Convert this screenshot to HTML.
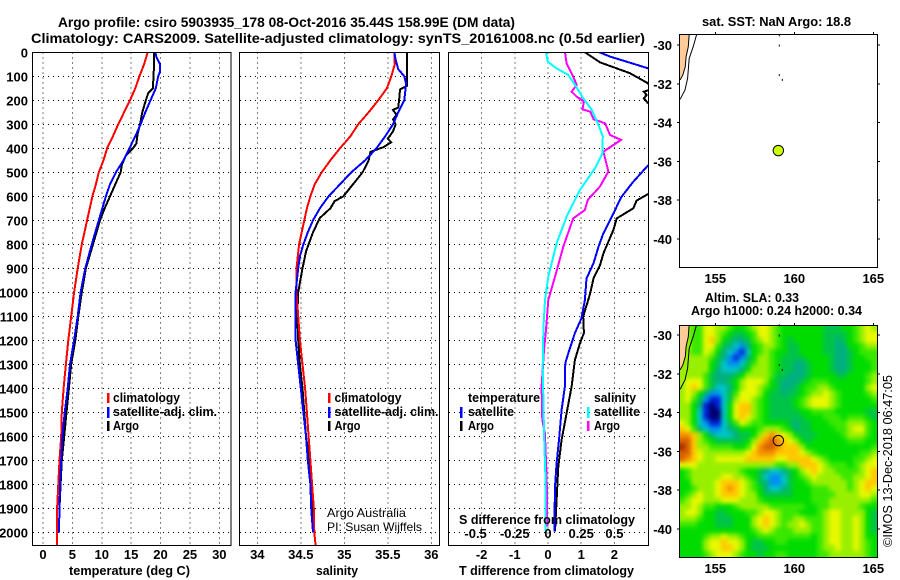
<!DOCTYPE html>
<html>
<head>
<meta charset="utf-8">
<title>Argo profile</title>
<style>
html,body{margin:0;padding:0;background:#fff;}
svg{display:block;}
text{font-family:"Liberation Sans",sans-serif;font-size:13px;font-weight:bold;fill:#000;}
.thin{font-weight:normal;font-size:12px;}
</style>
</head>
<body>
<svg id="fig" xmlns="http://www.w3.org/2000/svg" width="900" height="580" viewBox="0 0 900 580">
<defs>
<clipPath id="clipT"><rect x="33" y="52" width="198" height="493"/></clipPath>
<clipPath id="clipS"><rect x="240" y="52" width="199" height="493"/></clipPath>
<clipPath id="clipD"><rect x="449" y="52" width="199" height="493"/></clipPath>
<clipPath id="clipM1"><rect x="679" y="34" width="198" height="233"/></clipPath>
<clipPath id="clipM2"><rect x="679" y="325" width="198" height="232"/></clipPath>
<filter id="heatBlur" filterUnits="userSpaceOnUse" x="650" y="300" width="250" height="280" color-interpolation-filters="sRGB"><feGaussianBlur stdDeviation="2.2"/></filter>
</defs>
<text x="58" y="27" textLength="457" lengthAdjust="spacingAndGlyphs" style="font-size:14px">Argo profile: csiro 5903935_178 08-Oct-2016 35.44S 158.99E (DM data)</text>
<text x="31" y="43" textLength="614" lengthAdjust="spacingAndGlyphs" style="font-size:14px">Climatology: CARS2009. Satellite-adjusted climatology: synTS_20161008.nc (0.5d earlier)</text>
<g clip-path="url(#clipM2)"><g id="heat" filter="url(#heatBlur)"></g></g>
<g id="plots"></g>
<text x="69" y="575" textLength="121" lengthAdjust="spacingAndGlyphs">temperature (deg C)</text>
<text x="316" y="575" textLength="42" lengthAdjust="spacingAndGlyphs">salinity</text>
<text x="459" y="575" textLength="175" lengthAdjust="spacingAndGlyphs">T difference from climatology</text>
<text x="459" y="524" textLength="176" lengthAdjust="spacingAndGlyphs">S difference from climatology</text>
<g>
<rect x="107" y="393" width="2.5" height="10" fill="#f00"/><rect x="107" y="407" width="2.5" height="11" fill="#00f"/><rect x="107" y="421" width="2.5" height="10" fill="#000"/>
<text x="113" y="402" textLength="67" lengthAdjust="spacingAndGlyphs">climatology</text>
<text x="113" y="416" textLength="104" lengthAdjust="spacingAndGlyphs">satellite-adj. clim.</text>
<text x="113" y="430" textLength="26" lengthAdjust="spacingAndGlyphs">Argo</text>
</g>
<g>
<rect x="328" y="393" width="2.5" height="10" fill="#f00"/><rect x="328" y="407" width="2.5" height="11" fill="#00f"/><rect x="328" y="421" width="2.5" height="10" fill="#000"/>
<text x="334.5" y="402" textLength="67" lengthAdjust="spacingAndGlyphs">climatology</text>
<text x="334.5" y="416" textLength="104" lengthAdjust="spacingAndGlyphs">satellite-adj. clim.</text>
<text x="334.5" y="430" textLength="26" lengthAdjust="spacingAndGlyphs">Argo</text>
</g>
<g>
<text x="468" y="402" textLength="72" lengthAdjust="spacingAndGlyphs">temperature</text>
<rect x="460" y="407" width="2.5" height="11" fill="#00f"/><text x="468" y="416" textLength="46" lengthAdjust="spacingAndGlyphs">satellite</text>
<rect x="460" y="421" width="2.5" height="10" fill="#000"/><text x="468" y="430" textLength="26" lengthAdjust="spacingAndGlyphs">Argo</text>
<text x="594" y="402" textLength="42" lengthAdjust="spacingAndGlyphs">salinity</text>
<rect x="587" y="407" width="2.5" height="11" fill="#0ff"/><text x="594" y="416" textLength="46" lengthAdjust="spacingAndGlyphs">satellite</text>
<rect x="587" y="421" width="2.5" height="10" fill="#f0f"/><text x="594" y="430" textLength="26" lengthAdjust="spacingAndGlyphs">Argo</text>
</g>
<text class="thin" x="327" y="517" textLength="79" lengthAdjust="spacingAndGlyphs">Argo Australia</text>
<text class="thin" x="327" y="531" textLength="95" lengthAdjust="spacingAndGlyphs">PI: Susan Wijffels</text>
<text x="702" y="26" textLength="149" lengthAdjust="spacingAndGlyphs">sat. SST: NaN Argo: 18.8</text>
<text x="705" y="302" textLength="94" lengthAdjust="spacingAndGlyphs">Altim. SLA: 0.33</text>
<text x="691" y="315" textLength="171" lengthAdjust="spacingAndGlyphs">Argo h1000: 0.24 h2000: 0.34</text>
<text transform="translate(892,547) rotate(-90)" textLength="172" lengthAdjust="spacingAndGlyphs" style="font-weight:normal">©IMOS 13-Dec-2018 06:47:05</text>
</svg>
<script>
var depthTicks = [0,100,200,300,400,500,600,700,800,900,1000,1100,1200,1300,1400,1500,1600,1700,1800,1900,2000];
var tempTicks = [0,5,10,15,20,25,30];
var salTicks = ["34","34.5","35","35.5","36"];
var tDiffTicks = [-2,-1,0,1,2];
var sDiffTicks = ["-0.5","-0.25","0","0.25","0.5"];
var lonTicks = [155,160,165];
var latTicks = [-30,-32,-34,-36,-38,-40];

var tempClimDepth = [0,50,100,150,200,250,300,350,400,450,500,550,600,700,800,900,1000,1100,1200,1300,1400,1500,1600,1700,1800,1900,2000,2054];
var tempClim = [17.8,17.2,16.4,15.7,14.8,13.8,12.8,11.9,10.9,10.3,9.5,9.0,8.4,7.5,6.6,5.9,5.3,4.8,4.3,3.9,3.5,3.2,3.1,2.8,2.6,2.4,2.4,2.4];
var tempSatDepth = [0,20,50,80,100,150,200,250,300,350,400,450,500,550,600,700,800,900,1000,1100,1200,1300,1400,1500,1600,1700,1800,1900,2000];
var tempSat = [19.1,19.3,19.9,19.9,19.6,19.2,18.3,17.4,16.6,15.7,14.7,13.7,12.4,11.4,10.7,9.5,8.3,7.2,6.4,5.9,5.3,4.6,4.2,3.7,3.3,3.1,2.9,2.8,2.7];
var tempArgoDepth = [0,50,100,150,170,200,250,300,340,380,400,430,470,500,550,600,650,700,800,900,1000,1100,1200,1300,1400,1500,1600,1700,1800,1900,2000];
var tempArgo = [18.9,18.9,18.8,18.7,17.9,17.5,16.9,16.5,16.1,15.9,15.3,14.1,13.4,13.2,12.3,11.4,10.5,9.7,8.5,7.3,6.6,6.0,5.5,4.8,4.4,4.0,3.6,3.2,3.0,2.8,2.7];

var salClimDepth = [0,50,100,150,200,250,300,350,400,450,500,550,600,650,700,750,800,900,1000,1100,1200,1300,1400,1500,1600,1700,1800,1900,2000,2054];
var salClim = [35.575,35.58,35.54,35.49,35.39,35.28,35.16,35.07,34.95,34.84,34.74,34.66,34.61,34.57,34.54,34.51,34.48,34.45,34.45,34.47,34.49,34.52,34.55,34.57,34.59,34.61,34.63,34.65,34.655,34.67];
var salSatDepth = [0,30,70,100,130,200,250,300,350,400,450,500,550,600,650,700,750,800,850,900,1000,1100,1200,1300,1400,1500,1600,1700,1800,1900,2000];
var salSat = [35.575,35.59,35.62,35.69,35.71,35.69,35.62,35.56,35.47,35.37,35.24,35.08,34.95,34.82,34.72,34.64,34.58,34.53,34.49,34.47,34.44,34.44,34.44,34.47,34.50,34.53,34.56,34.58,34.61,34.62,34.64];
var salArgoDepth = [0,100,140,155,200,230,240,260,280,300,330,360,375,395,415,450,500,550,600,620,650,690,750,830,900,1000,1100,1200,1300,1400,1500,1600,1700,1800,1900,2000];
var salArgo = [35.72,35.72,35.72,35.64,35.63,35.62,35.56,35.6,35.56,35.59,35.56,35.5,35.54,35.45,35.3,35.28,35.21,35.10,34.99,34.89,34.84,34.72,34.64,34.56,34.52,34.47,34.46,34.47,34.49,34.52,34.54,34.56,34.6,34.62,34.63,34.64];

var dtSatDepth = [0,18,39,67,100,150,200,300,400,470,539,601,671,754,810,879,942,1032,1108,1170,1254,1295,1393,1490,1615,1712,1810,1997];
var dtSat = [1.55,1.87,2.37,3.02,3.2,3.5,3.5,3.8,3.8,3.02,2.57,2.22,1.97,1.67,1.52,1.37,1.16,1.11,1.01,0.81,0.61,0.52,0.51,0.41,0.33,0.26,0.21,0.19];
var dtArgoDepth = [0,42,62,87,126,150,164,178,192,210,250,300,400,500,590,618,650,692,740,838,886,942,1004,1032,1101,1170,1213,1282,1393,1504,1615,1726,1865,1997];
var dtArgo = [1.11,1.57,1.97,2.47,2.97,3.2,2.89,2.97,2.89,3.0,3.5,3.9,5.0,3.4,3.02,2.67,2.57,2.07,1.97,1.67,1.57,1.37,1.27,1.21,1.06,1.08,0.96,0.81,0.71,0.56,0.41,0.31,0.26,0.21];
var dsSatDepth = [0,39,67,94,136,192,240,303,351,421,483,574,685,796,935,1032,1150,1310,1449,1588,1754,1997];
var dsSat = [-0.015,-0.0025,0.065,0.153,0.203,0.266,0.33,0.38,0.413,0.41,0.354,0.24,0.14,0.065,0.0025,-0.0225,-0.035,-0.04,-0.035,-0.03,-0.02,-0.02];
var dsArgoDepth = [0,46,87,136,164,185,205,238,247,279,296,344,365,414,497,560,615,657,692,810,935,1032,1157,1240,1393,1532,1588,1782,1976];
var dsArgo = [0.128,0.14,0.178,0.216,0.178,0.216,0.27,0.26,0.318,0.343,0.43,0.467,0.55,0.417,0.455,0.39,0.30,0.278,0.19,0.115,0.053,0.0025,-0.015,-0.03,-0.048,-0.043,-0.023,-0.01,-0.005];

var coastLon1 = [153.35,153.29,153.15,153.1,152.94,152.77];
var coastLat1 = [-29.45,-30.09,-30.6,-31.12,-31.55,-31.8];
var coastLon2 = [153.82,153.6,153.35,153.25,153.08,152.77];
var coastLat2 = [-29.45,-30.09,-30.69,-31.72,-32.32,-32.8];
var islandLon = [159.05,159.05,159.05,159.24];
var islandLat = [-29.5,-30.03,-31.55,-31.8];
var floatLon = 158.99;
var floatLat = -35.44;

var slaLevels = [
[8,8,7,7,9,9,8,8,7,6,6,7,8,9,9,8,7,6,6,6,6,6,6,6,5,5,5,6,6,7,8,9,8],
[8,8,7,7,9,9,8,7,6,5,5,6,7,9,9,8,7,6,6,6,6,6,6,6,5,5,5,5,6,7,8,9,9],
[8,8,7,7,9,10,8,6,5,4,4,5,7,8,9,8,7,6,5,6,6,6,6,6,5,5,4,5,6,7,8,9,9],
[8,8,7,7,9,9,7,5,4,3,2,4,6,7,8,8,7,6,5,5,6,6,6,6,5,5,4,4,6,6,7,8,8],
[8,8,7,7,9,8,6,4,3,2,1,3,6,7,8,7,6,6,5,5,6,6,6,6,5,5,4,4,5,6,7,7,7],
[8,8,8,8,8,7,5,4,2,1,2,4,6,8,8,7,6,5,5,5,5,6,6,6,6,5,4,4,5,6,6,7,7],
[8,8,8,8,8,6,5,3,2,2,3,5,7,8,8,7,6,5,5,4,4,5,6,6,6,5,4,4,5,6,6,6,7],
[8,8,8,8,8,6,4,3,3,3,4,6,8,8,8,7,6,5,5,4,4,5,6,6,6,5,4,4,5,6,6,6,7],
[8,8,8,8,7,5,4,4,4,5,6,8,8,8,8,7,5,5,4,4,4,5,6,6,6,6,5,5,6,6,6,7,8],
[8,9,9,9,7,5,4,4,5,6,8,9,9,9,8,6,5,4,4,4,5,6,7,7,7,6,6,6,6,6,6,7,8],
[8,9,10,9,7,5,3,3,4,6,8,9,9,8,7,6,5,4,4,5,6,7,7,8,8,7,6,6,6,6,6,8,9],
[8,9,8,6,4,2,2,3,5,7,9,9,9,8,6,5,5,4,5,5,6,7,8,8,9,8,7,6,6,6,6,7,8],
[8,9,7,5,2,1,1,3,5,8,9,9,8,7,6,5,5,5,5,6,7,8,9,9,9,8,7,6,6,6,6,6,7],
[8,8,6,4,1,0,1,3,6,9,10,10,8,7,6,5,5,5,5,6,7,8,9,9,9,8,7,6,6,6,6,6,6],
[8,8,6,3,1,0,0,3,6,9,10,10,8,7,6,5,5,5,5,5,6,6,7,7,7,7,6,6,6,6,6,5,5],
[8,8,6,3,1,0,0,3,6,9,10,9,8,7,6,5,5,5,5,5,5,6,6,6,7,7,7,6,7,7,7,6,5],
[9,8,6,3,2,1,1,3,5,7,9,8,7,7,6,6,6,6,5,4,5,5,6,6,6,7,7,7,8,8,8,7,6],
[10,9,7,4,3,2,2,3,4,5,6,6,6,7,8,8,8,7,6,4,5,5,6,6,6,6,7,7,8,9,9,7,6],
[11,11,10,8,6,4,3,3,3,4,5,5,6,8,10,11,10,9,8,6,5,5,5,6,6,6,6,7,8,8,8,7,6],
[12,12,10,8,7,6,5,5,5,5,5,6,8,10,11,12,11,10,9,8,6,5,6,6,6,6,6,6,7,7,7,6,6],
[13,12,10,8,8,7,7,7,7,6,6,7,9,11,12,12,11,10,10,10,8,6,6,6,6,6,6,6,6,6,6,6,7],
[12,12,10,9,8,8,8,8,8,8,8,9,10,11,11,11,10,10,10,10,9,8,7,6,6,6,6,6,6,6,7,7,8],
[12,11,10,9,8,8,9,9,9,9,9,10,10,10,10,10,9,9,10,10,10,10,9,8,7,6,6,6,6,7,7,8,9],
[9,9,9,8,8,8,8,8,8,8,8,8,8,8,8,8,7,7,8,8,10,10,10,9,8,7,7,7,6,7,8,9,9],
[6,7,8,8,8,8,8,8,8,8,7,6,6,5,4,3,3,4,5,6,8,9,10,9,8,8,7,7,7,7,8,9,10],
[6,7,8,8,8,8,8,9,9,8,8,7,6,5,3,2,2,3,5,6,7,8,9,8,8,8,8,7,7,8,8,9,10],
[6,6,8,8,8,8,9,10,10,10,9,8,7,5,4,2,2,3,5,6,6,7,8,8,8,8,8,8,7,8,9,10,10],
[6,6,7,8,8,8,9,10,11,10,9,8,7,6,4,3,3,4,5,6,6,6,7,7,7,8,8,8,7,8,9,10,9],
[6,7,8,9,8,8,9,10,10,10,9,8,8,6,5,5,5,5,5,6,6,6,7,7,7,7,8,8,8,8,9,9,8],
[7,8,9,9,8,8,8,9,9,9,8,8,8,7,6,6,6,6,6,6,6,6,7,7,7,8,8,8,8,8,8,8,7],
[8,8,9,8,7,7,6,6,6,7,8,8,8,8,8,7,7,7,7,7,7,6,6,7,7,8,8,8,8,8,7,6,6],
[8,9,9,8,6,6,5,5,6,6,6,7,7,8,9,9,8,7,7,7,6,6,6,7,8,9,9,8,8,8,8,6,5],
[8,8,8,7,6,6,5,5,5,6,6,6,8,9,10,9,8,7,7,8,8,7,7,7,8,9,9,8,8,9,8,6,5],
[7,7,7,6,6,6,5,5,5,6,6,6,8,9,10,9,8,7,8,8,9,8,7,7,8,9,9,8,8,9,8,6,5],
[6,6,6,6,6,6,6,6,6,6,6,6,7,8,9,8,7,7,7,8,8,8,7,7,8,9,9,8,8,9,8,6,5],
[6,6,6,6,7,8,8,9,8,8,7,6,6,7,7,7,7,7,7,7,7,7,6,7,8,9,9,8,8,9,8,6,6],
[6,6,6,6,8,9,9,10,9,9,8,6,5,5,6,6,7,7,6,6,6,6,6,7,8,9,9,8,8,9,8,7,6],
[6,6,6,6,8,9,9,10,10,9,8,6,5,5,5,6,6,6,6,6,6,6,6,7,8,8,9,8,8,9,8,7,6],
[6,6,6,6,7,8,9,9,9,8,7,6,6,5,6,6,7,7,6,6,6,6,6,7,7,8,8,8,8,8,8,7,6]
];
var slaColors = ["#000070","#0020d8","#0090f0","#00c4c8","#00b080","#00c448","#00dc00","#38e800","#98f000","#e8f800","#ffc800","#f59000","#d86000","#a02800"];

var NS = "http://www.w3.org/2000/svg";
var svg = document.getElementById("fig");
var plots = document.getElementById("plots");
var heat = document.getElementById("heat");

function node(tag, attrs, parent) {
  var el = document.createElementNS(NS, tag);
  for (var k in attrs) el.setAttribute(k, attrs[k]);
  (parent || plots).appendChild(el);
  return el;
}
function label(txt, x, y, anchor, parent) {
  var t = node("text", {x: x, y: y, "text-anchor": anchor}, parent);
  t.textContent = txt;
  return t;
}
function yDepth(d) { return 52.3 + d * 0.24; }
function xTemp(t) { return 43 + t * 5.877; }
function xSal(s) { return 257.3 + (s - 34) * 87; }
function xTDiff(t) { return 548 + t * 33.2; }
function xSDiff(s) { return 548 + s * 132.8; }
function xLon(lon) { return 715.3 + (lon - 155) * 15.8; }
function yLat(lat, off) { return off + 45 + (-30 - lat) * 19.4; }

function series(depths, values, xf, color, clip, name) {
  var pts = depths.map(function (d, i) { return xf(values[i]).toFixed(1) + "," + yDepth(d).toFixed(1); }).join(" ");
  var el = node("polyline", {points: pts, fill: "none", stroke: color, "stroke-width": 2, "clip-path": "url(#" + clip + ")", "shape-rendering": "crispEdges"});
  
  
}

function panelGrid(x0, x1, xs, name) {
  var g = node("g", {});
  
  
  depthTicks.forEach(function (d) {
    if (d === 0) return;
    node("line", {x1: x0, x2: x1, y1: yDepth(d), y2: yDepth(d), stroke: "#000", "stroke-width": 1, "stroke-dasharray": "1 4", "shape-rendering": "crispEdges"}, g);
  });
  xs.forEach(function (x) {
    node("line", {x1: x, x2: x, y1: 52.5, y2: 545, stroke: "#000", "stroke-width": 1, "stroke-dasharray": "1 4", "shape-rendering": "crispEdges"}, g);
  });
  return g;
}
function frame(x, y, w, h, name) {
  var r = node("rect", {x: x, y: y, width: w, height: h, fill: "none", stroke: "#000", "stroke-width": 1, "shape-rendering": "crispEdges"});
  
  
}

/* panels */
panelGrid(33, 231, tempTicks.map(xTemp), "temperature-grid");
panelGrid(240, 439, salTicks.map(function (s) { return xSal(+s); }), "salinity-grid");
panelGrid(449, 648, tDiffTicks.map(xTDiff), "difference-grid");

series(tempArgoDepth, tempArgo, xTemp, "#000", "clipT", "temperature-argo-line");
series(tempClimDepth, tempClim, xTemp, "#f00", "clipT", "temperature-climatology-line");
series(tempSatDepth, tempSat, xTemp, "#00f", "clipT", "temperature-satellite-line");
series(salArgoDepth, salArgo, xSal, "#000", "clipS", "salinity-argo-line");
series(salClimDepth, salClim, xSal, "#f00", "clipS", "salinity-climatology-line");
series(salSatDepth, salSat, xSal, "#00f", "clipS", "salinity-satellite-line");
series(dtArgoDepth, dtArgo, xTDiff, "#000", "clipD", "t-difference-argo-line");
series(dtSatDepth, dtSat, xTDiff, "#00f", "clipD", "t-difference-satellite-line");
series(dsArgoDepth, dsArgo, xSDiff, "#f0f", "clipD", "s-difference-argo-line");
series(dsSatDepth, dsSat, xSDiff, "#0ff", "clipD", "s-difference-satellite-line");

frame(32.5, 52.5, 198.5, 493, "temperature-plot-frame");
frame(239.5, 52.5, 200, 493, "salinity-plot-frame");
frame(448.5, 52.5, 200, 493, "difference-plot-frame");

var depthLabelGroup = node("g", {});


depthTicks.forEach(function (d) { label(String(d), 28, yDepth(d) + 5, "end", depthLabelGroup); });

var tempLabelGroup = node("g", {});


tempTicks.forEach(function (t) { label(String(t), xTemp(t), 559, "middle", tempLabelGroup); });

var salLabelGroup = node("g", {});


salTicks.forEach(function (s) { label(s, xSal(+s), 559, "middle", salLabelGroup); });

var tDiffLabelGroup = node("g", {});


tDiffTicks.forEach(function (t) { label(String(t), xTDiff(t), 559, "middle", tDiffLabelGroup); });

var sDiffLabelGroup = node("g", {});


sDiffTicks.forEach(function (s) { label(s, xSDiff(+s) - (+s === -0.5 ? 6 : 0), 538, "middle", sDiffLabelGroup); });

/* heat map cells: outermost cells extend past the clip so the smoothing does not fade at the frame */
var lastRow = slaLevels.length - 1;
slaLevels.forEach(function (row, r) {
  var lastCol = row.length - 1;
  row.forEach(function (v, c) {
    var x0 = c === 0 ? 660 : 679 + c * 6;
    var x1 = c === lastCol ? 895 : 679 + (c + 1) * 6 + 0.2;
    var y0 = r === 0 ? 305 : 325 + r * 5.95;
    var y1 = r === lastRow ? 575 : 325 + (r + 1) * 5.95 + 0.2;
    var cell = node("rect", {x: x0, y: y0, width: x1 - x0, height: y1 - y0, fill: slaColors[v], "shape-rendering": "crispEdges"}, heat);
    
    
  });
});

/* maps */
function mapPanel(off, top, bottom, name, fillMarker) {
  var g = node("g", {});
  
  
  var clip = off === 0 ? "clipM1" : "clipM2";
  var land = coastLon1.map(function (lon, i) { return xLon(lon).toFixed(1) + "," + yLat(coastLat1[i], off).toFixed(1); });
  land.push("679," + yLat(coastLat1[coastLat1.length - 1], off).toFixed(1));
  land.push("679," + top);
  node("polygon", {points: land.join(" "), fill: "#ffcc99", "clip-path": "url(#" + clip + ")"}, g);
  [[coastLon1, coastLat1], [coastLon2, coastLat2]].forEach(function (c) {
    var pts = c[0].map(function (lon, i) { return xLon(lon).toFixed(1) + "," + yLat(c[1][i], off).toFixed(1); }).join(" ");
    node("polyline", {points: pts, fill: "none", stroke: "#000", "stroke-width": 1, "clip-path": "url(#" + clip + ")"}, g);
  });
  islandLon.forEach(function (lon, i) {
    node("rect", {x: xLon(lon) - 0.5, y: yLat(islandLat[i], off) - 1, width: 1, height: 2, fill: "#000"}, g);
  });
  node("rect", {x: 679.5, y: top + 0.5, width: 198, height: bottom - top, fill: "none", stroke: "#000", "stroke-width": 1, "shape-rendering": "crispEdges"}, g);
  lonTicks.forEach(function (lon) {
    node("line", {x1: xLon(lon), x2: xLon(lon), y1: top - 2, y2: top + 0.5, stroke: "#000", "shape-rendering": "crispEdges"}, g);
    label(String(lon), xLon(lon), off + 283, "middle", g);
  });
  latTicks.forEach(function (lat) {
    var y = yLat(lat, off);
    node("line", {x1: 877.5, x2: 880, y1: y, y2: y, stroke: "#000", "shape-rendering": "crispEdges"}, g);
    node("line", {x1: 677, x2: 679.5, y1: y, y2: y, stroke: "#000", "shape-rendering": "crispEdges"}, g);
    label(String(lat), 672, y + 5, "end", g);
  });
  var marker = node("circle", {cx: xLon(floatLon), cy: yLat(floatLat, off), r: 5.2, fill: fillMarker, stroke: "#000", "stroke-width": 1}, g);
  
  
}
mapPanel(0, 34, 267, "sst-map", "#ccff00");
mapPanel(290, 325, 557, "sla-map", "none");
</script>
</body>
</html>
